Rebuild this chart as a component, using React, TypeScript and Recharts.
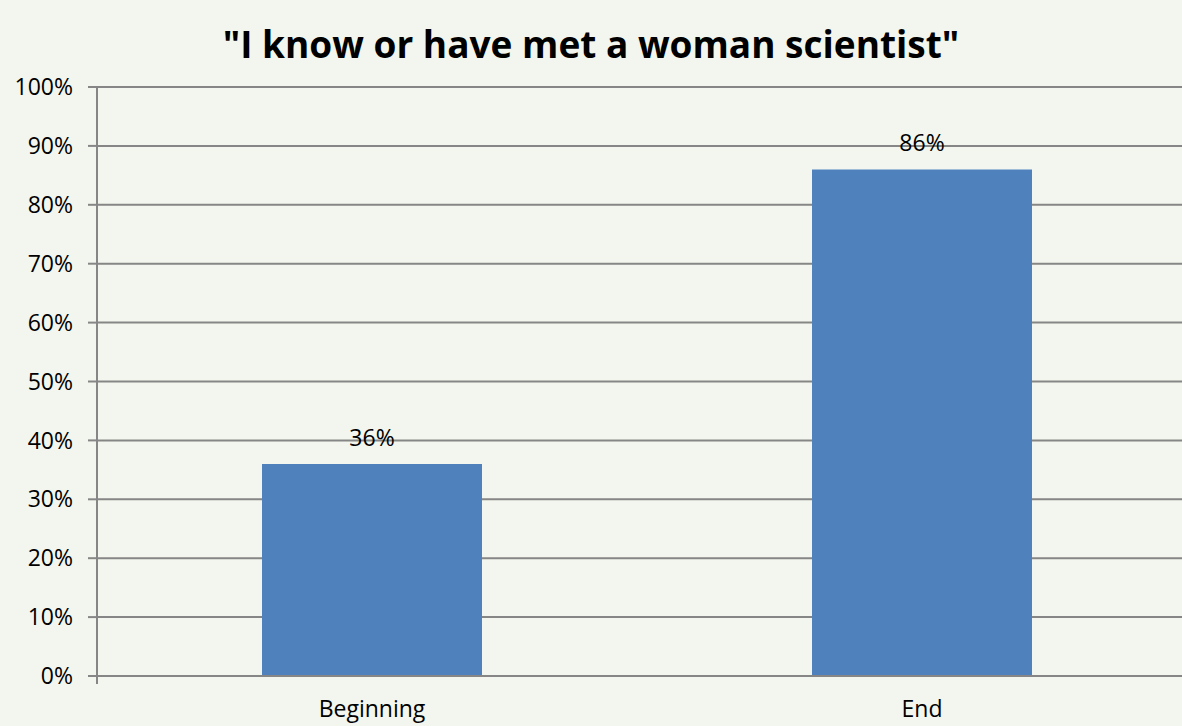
import { BarChart, Bar, XAxis, YAxis, CartesianGrid, LabelList } from "recharts";

const stages = ["Beginning", "End"];
const shares = [36, 86];
const yTicks = [0, 10, 20, 30, 40, 50, 60, 70, 80, 90, 100];
const edgeTicks = [0, 1, 2];

const data = stages.map((stage, i) => ({ stage, share: shares[i] }));

const gridColor = "#868686";
const font = "'Open Sans', 'Liberation Sans', sans-serif";

const App = () => {
  return (
    <div style={{ position: "absolute", left: 0, top: 0, width: 1182, height: 726, background: "#F3F6EE", fontFamily: font, overflow: "hidden" }}>
      <div
        style={{
          position: "absolute",
          left: 0,
          top: 19,
          width: 1182,
          textAlign: "center",
          fontSize: 37,
          lineHeight: "50px",
          fontWeight: 700,
          color: "#000",
        }}
      >
        "I know or have met a woman scientist"
      </div>
      <BarChart
        width={1182}
        height={726}
        data={data}
        margin={{ top: 87, right: -15, bottom: 0, left: 0 }}
        style={{ position: "absolute", left: 0, top: 0 }}
      >
        <CartesianGrid vertical={false} stroke={gridColor} strokeWidth={2} />
        <XAxis
          dataKey="stage"
          height={1}
          axisLine={{ stroke: gridColor, strokeWidth: 2 }}
          tickLine={false}
          tickSize={0}
          tickMargin={25}
          tick={{ fill: "#000", fontSize: 23, fontFamily: font }}
        />
        <XAxis
          xAxisId="edges"
          type="number"
          domain={[0, 2]}
          ticks={edgeTicks}
          height={49}
          axisLine={false}
          tickLine={{ stroke: gridColor, strokeWidth: 2 }}
          tickSize={7}
          tick={() => <g />}
        />
        <YAxis
          domain={[0, 100]}
          ticks={yTicks}
          width={97}
          axisLine={{ stroke: gridColor, strokeWidth: 2 }}
          tickLine={{ stroke: gridColor, strokeWidth: 2 }}
          tickSize={9}
          tickMargin={15}
          tickFormatter={(v) => `${v}%`}
          tick={{ fill: "#000", fontSize: 23, fontFamily: font }}
        />
        <Bar dataKey="share" fill="#4F81BD" barSize={220} isAnimationActive={false}>
          <LabelList
            dataKey="share"
            position="top"
            offset={18}
            formatter={(v: number) => `${v}%`}
            style={{ fill: "#000", fontSize: 23, fontFamily: font }}
          />
        </Bar>
      </BarChart>
    </div>
  );
};

export default App;
